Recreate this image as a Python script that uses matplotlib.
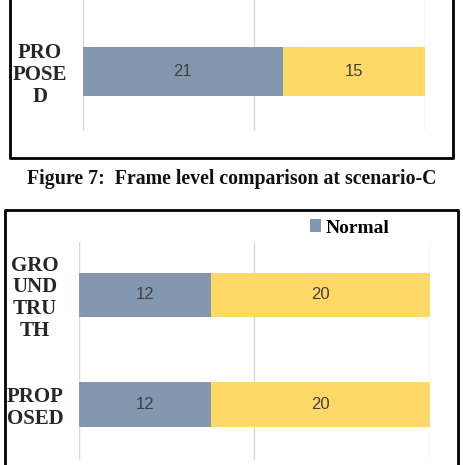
# Frame level comparison - stacked 100% bars, two panels cropped from a paper page
import numpy as np
import matplotlib.pyplot as plt
from matplotlib.lines import Line2D

# data
top_categories = ['PRO\nPOSE\nD']
top_normal = [21]
top_abnormal = [15]

bottom_categories = ['PROP\nOSED', 'GRO\nUND\nTRU\nTH']   # bottom to top
bottom_normal = [12, 12]
bottom_abnormal = [20, 20]

caption = 'Figure 7:  Frame level comparison at scenario-C'

blue = '#8497B0'
yellow = '#FFD966'
W, H = 463, 465

fig = plt.figure(figsize=(W / 100, H / 100), dpi=100)


def box(x0, y0, w, h):
    # pixel box (from top-left) -> figure fractions
    return [x0 / W, 1 - (y0 + h) / H, w / W, h / H]


def stacked(ax, cats, normal, abnormal, height, pad):
    normal = np.array(normal, dtype=float)
    abnormal = np.array(abnormal, dtype=float)
    total = normal + abnormal
    y = np.arange(len(cats))
    b1 = ax.barh(y, normal / total, height=height, color=blue, label='Normal')
    b2 = ax.barh(y, abnormal / total, left=normal / total, height=height,
                 color=yellow, label='Abnormal')
    for bars, vals in ((b1, normal), (b2, abnormal)):
        ax.bar_label(bars, labels=[str(int(v)) for v in vals], label_type='center',
                     fontsize=12, color='#404040', family='Liberation Sans')
    ax.set_xlim(0, 1)
    ax.set_xticks([0, 0.5, 1])
    ax.tick_params(axis='x', length=0, labelbottom=False)
    ax.grid(axis='x', color='#d9d9d9', linewidth=1)
    ax.set_axisbelow(True)
    ax.set_yticks(y, cats)
    ax.tick_params(axis='y', length=0, pad=pad)
    for t in ax.get_yticklabels():
        t.set_ha('center')
        t.set_fontfamily('Liberation Serif')
        t.set_fontweight('bold')
        t.set_fontsize(15)
        t.set_color('#262626')
        t.set_linespacing(1.12)
    for s in ax.spines.values():
        s.set_visible(False)
    return b1


# top panel (cut off above)
ax1 = fig.add_axes(box(83, 0, 342, 131))
stacked(ax1, top_categories, top_normal, top_abnormal, 0.5, 31)
ax1.set_ylim(-0.607, 0.730)

# bottom panel (cut off below)
ax2 = fig.add_axes(box(79.3, 242, 350.4, 218))
nb = stacked(ax2, bottom_categories, bottom_normal, bottom_abnormal, 0.41, 32)
ax2.set_ylim(-0.507, 1.484)
ax2.legend(handles=[nb], loc='center left', bbox_to_anchor=(300 / W, 1 - 228 / H),
           bbox_transform=fig.transFigure, frameon=False, handlelength=0.6,
           handleheight=0.6, handletextpad=0.2, borderpad=0,
           prop={'family': 'Liberation Serif', 'weight': 'bold', 'size': 14})

# caption between the panels
fig.text(231.5 / W, 1 - 179 / H, caption, ha='center', va='center',
         family='Liberation Serif', weight='bold', fontsize=14.3, color='#111111')

# frame borders of the two figure boxes
lw = 2
for xs, ys in (([9.5, 9.5, 453, 453], [-5, 158, 158, -5]),
               ([4.5, 4.5, 457.5, 457.5], [470, 210.5, 210.5, 470])):
    fig.add_artist(Line2D([x / W for x in xs], [1 - y / H for y in ys],
                          transform=fig.transFigure, color='black', linewidth=lw))

fig.savefig('out.png', dpi=100)
